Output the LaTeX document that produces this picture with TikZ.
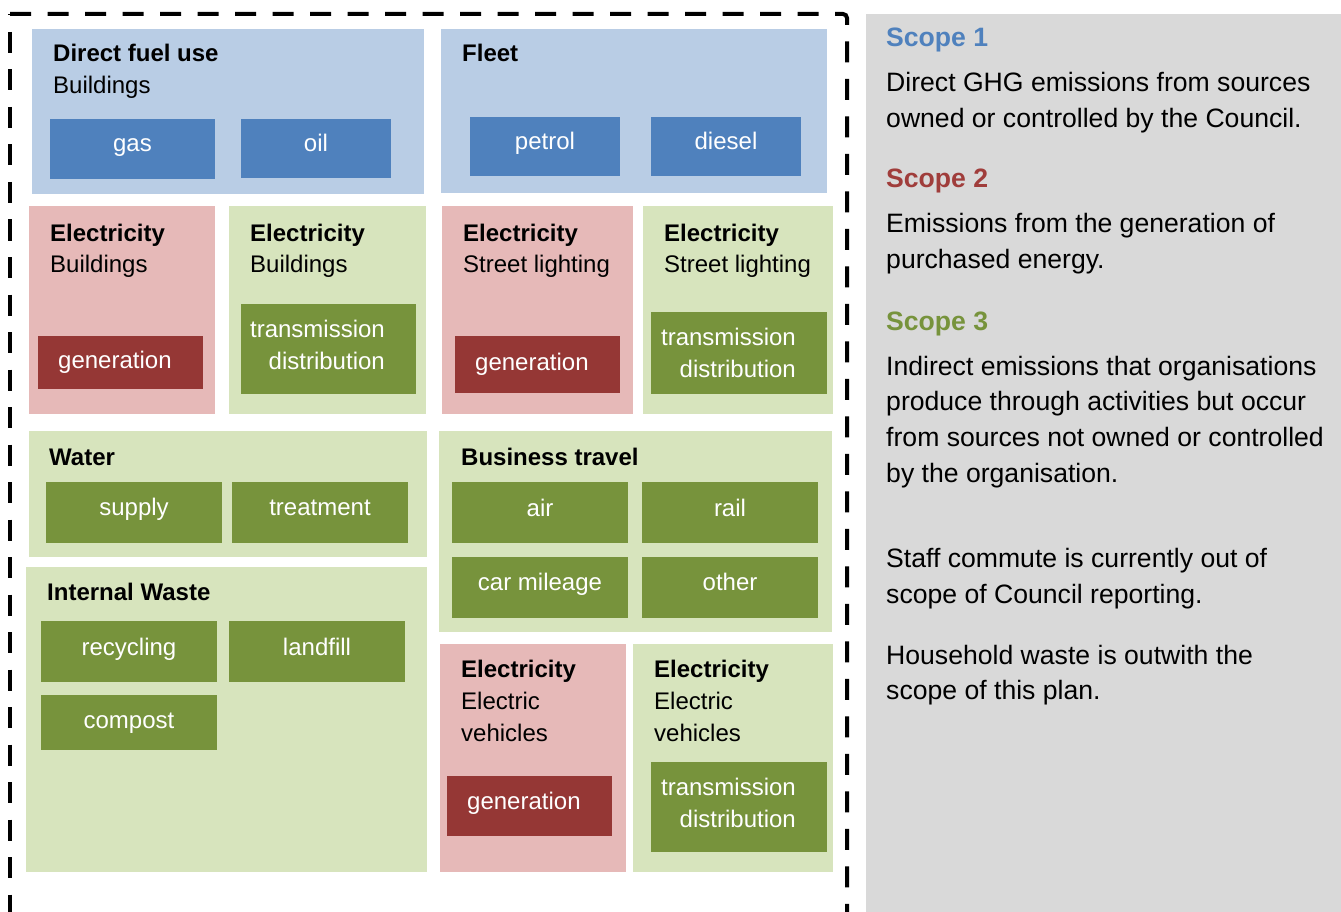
\documentclass[tikz,border=0pt]{standalone}
\usepackage{fontspec}
\setmainfont{Liberation Sans}
\definecolor{lblue}{HTML}{B9CDE5}
\definecolor{dblue}{HTML}{4F81BD}
\definecolor{lred}{HTML}{E6B9B8}
\definecolor{dred}{HTML}{953735}
\definecolor{lgreen}{HTML}{D7E4BD}
\definecolor{dgreen}{HTML}{77933C}
\definecolor{panelgrey}{HTML}{D9D9D9}
\definecolor{scopered}{HTML}{A03D3B}
\newcommand\boxfont{\fontsize{24}{32}\selectfont}
\newcommand\panelfont{\fontsize{26.6}{35.5}\selectfont}
\tikzset{
  box/.style 2 args={minimum width=#1, minimum height=#2, anchor=north west, inner sep=0pt, outer sep=0pt, draw=none},
  txt/.style={anchor=base west, inner sep=0pt, font=\boxfont},
  ttl/.style={anchor=base west, inner sep=0pt, font=\boxfont\bfseries},
  wt/.style={anchor=base, inner sep=0pt, font=\boxfont, text=white},
  wtl/.style={anchor=base west, inner sep=0pt, font=\boxfont, text=white},
  wtr/.style={anchor=base east, inner sep=0pt, font=\boxfont, text=white},
  ptxt/.style={anchor=base west, inner sep=0pt, font=\panelfont},
  phead/.style={anchor=base west, inner sep=0pt, font=\panelfont\bfseries},
  border/.style={line width=4pt, dash pattern=on 21pt off 16.5pt}
}
\begin{document}
\begin{tikzpicture}[x=1pt,y=-1pt]
\useasboundingbox (0,0) rectangle (1341,912);
\clip (0,0) rectangle (1341,912);
% grey panel
\node[box={475}{898}, fill=panelgrey] (panel) at (866,14) {};
% dashed border
\coordinate (tl) at (10,14);
\coordinate (tr) at (847,14);
\coordinate (bl) at (10,960);
\coordinate (br) at (847,960);
\draw[border, rounded corners=4pt] (tl) -- (tr) -- (br);
\draw[border, dash phase=19.5pt] (tl) -- (bl);

% Direct fuel use
\node[box={392}{165}, fill=lblue] (dfu) at (32,29) {};
\node[ttl] (dfuT) at (53,62) {Direct fuel use};
\node[txt] (dfuS) at (53,94) {Buildings};
\node[box={165}{60}, fill=dblue] (gas) at (50,119) {};
\node[wt] (gasT) at (132.5,152) {gas};
\node[box={150}{59}, fill=dblue] (oil) at (241,119) {};
\node[wt] (oilT) at (316,152) {oil};

% Fleet
\node[box={386}{164}, fill=lblue] (fleet) at (441,29) {};
\node[ttl] (fleetT) at (462,62) {Fleet};
\node[box={150}{59}, fill=dblue] (petrol) at (470,117) {};
\node[wt] (petrolT) at (545,150) {petrol};
\node[box={150}{59}, fill=dblue] (diesel) at (651,117) {};
\node[wt] (dieselT) at (726,150) {diesel};

% Electricity Buildings (red)
\node[box={186}{208}, fill=lred] (ebR) at (29,206) {};
\node[ttl] (ebRT) at (50,241) {Electricity};
\node[txt] (ebRS) at (50,272) {Buildings};
\node[box={165}{53}, fill=dred] (genA) at (38,336) {};
\node[wtl] (genAT) at (58,368) {generation};

% Electricity Buildings (green)
\node[box={197}{208}, fill=lgreen] (ebG) at (229,206) {};
\node[ttl] (ebGT) at (250,241) {Electricity};
\node[txt] (ebGS) at (250,272) {Buildings};
\node[box={175}{90}, fill=dgreen] (tdA) at (241,304) {};
\node[wtr] (tdA1) at (385,337) {transmission};
\node[wtr] (tdA2) at (385,369) {distribution};

% Electricity Street lighting (red)
\node[box={191}{208}, fill=lred] (esR) at (442,206) {};
\node[ttl] (esRT) at (463,241) {Electricity};
\node[txt] (esRS) at (463,272) {Street lighting};
\node[box={165}{57}, fill=dred] (genB) at (455,336) {};
\node[wtl] (genBT) at (475,370) {generation};

% Electricity Street lighting (green)
\node[box={190}{208}, fill=lgreen] (esG) at (643,206) {};
\node[ttl] (esGT) at (664,241) {Electricity};
\node[txt] (esGS) at (664,272) {Street lighting};
\node[box={176}{82}, fill=dgreen] (tdB) at (651,312) {};
\node[wtr] (tdB1) at (796,345) {transmission};
\node[wtr] (tdB2) at (796,377) {distribution};

% Water
\node[box={398}{126}, fill=lgreen] (water) at (29,431) {};
\node[ttl] (waterT) at (49,465) {Water};
\node[box={176}{61}, fill=dgreen] (supply) at (46,482) {};
\node[wt] (supplyT) at (134,515) {supply};
\node[box={176}{61}, fill=dgreen] (treat) at (232,482) {};
\node[wt] (treatT) at (320,515) {treatment};

% Internal Waste
\node[box={401}{305}, fill=lgreen] (waste) at (26,567) {};
\node[ttl] (wasteT) at (47,600) {Internal Waste};
\node[box={176}{61}, fill=dgreen] (recyc) at (41,621) {};
\node[wt] (recycT) at (129,655) {recycling};
\node[box={176}{61}, fill=dgreen] (landf) at (229,621) {};
\node[wt] (landfT) at (317,655) {landfill};
\node[box={176}{55}, fill=dgreen] (compost) at (41,695) {};
\node[wt] (compostT) at (129,728) {compost};

% Business travel
\node[box={393}{201}, fill=lgreen] (bt) at (439,431) {};
\node[ttl] (btT) at (461,465) {Business travel};
\node[box={176}{61}, fill=dgreen] (air) at (452,482) {};
\node[wt] (airT) at (540,516) {air};
\node[box={176}{61}, fill=dgreen] (rail) at (642,482) {};
\node[wt] (railT) at (730,516) {rail};
\node[box={176}{61}, fill=dgreen] (car) at (452,557) {};
\node[wt] (carT) at (540,590) {car mileage};
\node[box={176}{61}, fill=dgreen] (other) at (642,557) {};
\node[wt] (otherT) at (730,590) {other};

% Electric vehicles (red)
\node[box={186}{228}, fill=lred] (evR) at (440,644) {};
\node[ttl] (evRT) at (461,677) {Electricity};
\node[txt] (evRS1) at (461,709) {Electric};
\node[txt] (evRS2) at (461,741) {vehicles};
\node[box={165}{60}, fill=dred] (genC) at (447,776) {};
\node[wtl] (genCT) at (467,809) {generation};

% Electric vehicles (green)
\node[box={200}{228}, fill=lgreen] (evG) at (633,644) {};
\node[ttl] (evGT) at (654,677) {Electricity};
\node[txt] (evGS1) at (654,709) {Electric};
\node[txt] (evGS2) at (654,741) {vehicles};
\node[box={176}{90}, fill=dgreen] (tdC) at (651,762) {};
\node[wtr] (tdC1) at (796,795) {transmission};
\node[wtr] (tdC2) at (796,827) {distribution};

% Right panel text
\node[phead, text=dblue] (s1) at (886,47) {Scope 1};
\node[ptxt] (s1a) at (886,92) {Direct GHG emissions from sources};
\node[ptxt] (s1b) at (886,128) {owned or controlled by the Council.};
\node[phead, text=scopered] (s2) at (886,188) {Scope 2};
\node[ptxt] (s2a) at (886,233) {Emissions from the generation of};
\node[ptxt] (s2b) at (886,268) {purchased energy.};
\node[phead, text=dgreen] (s3) at (886,330) {Scope 3};
\node[ptxt] (s3a) at (886,375) {Indirect emissions that organisations};
\node[ptxt] (s3b) at (886,410) {produce through activities but occur};
\node[ptxt] (s3c) at (886,446) {from sources not owned or controlled};
\node[ptxt] (s3d) at (886,482) {by the organisation.};
\node[ptxt] (n1a) at (886,567) {Staff commute is currently out of};
\node[ptxt] (n1b) at (886,603) {scope of Council reporting.};
\node[ptxt] (n2a) at (886,664) {Household waste is outwith the};
\node[ptxt] (n2b) at (886,699) {scope of this plan.};
\end{tikzpicture}
\end{document}
